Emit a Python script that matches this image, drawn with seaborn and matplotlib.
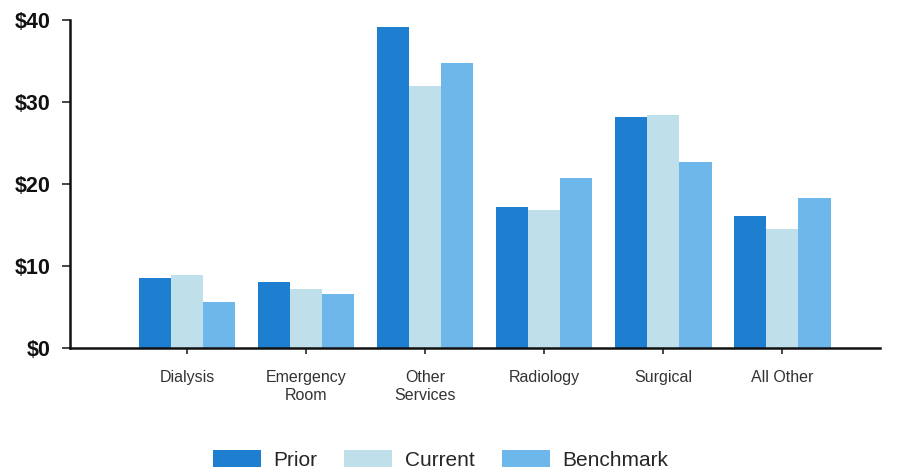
import pandas as pd
import matplotlib
matplotlib.use("Agg")
from matplotlib import pyplot as plt
import seaborn as sns

categories = ["Dialysis", "Emergency\nRoom", "Other\nServices", "Radiology", "Surgical", "All Other"]
series = ["Prior", "Current", "Benchmark"]
prior = [8.5, 8.0, 39.1, 17.1, 28.1, 16.0]
current = [8.9, 7.1, 31.9, 16.8, 28.4, 14.5]
benchmark = [5.5, 6.5, 34.8, 20.7, 22.7, 18.3]
yticks = [0, 10, 20, 30, 40]
ytick_labels = ["$0", "$10", "$20", "$30", "$40"]
colors = ["#1E7ECF", "#BFDFEA", "#6DB7EA"]

df = pd.DataFrame({
    "category": categories * 3,
    "series": [s for s in series for _ in categories],
    "value": prior + current + benchmark,
})

sns.set_style("white")
plt.rcParams["font.family"] = ["Liberation Sans", "DejaVu Sans"]

fig = plt.figure(figsize=(8.99, 4.74), dpi=100)
ax = fig.add_axes([70 / 899, 1 - 347.5 / 474, 810 / 899, 327.5 / 474])

sns.barplot(
    data=df,
    x="category",
    y="value",
    hue="series",
    order=categories,
    hue_order=series,
    palette=colors,
    width=0.81,
    gap=0,
    saturation=1,
    linewidth=0,
    edgecolor="none",
    ax=ax,
)

ax.set_xlim(-0.983, 5.82)
ax.set_ylim(0, 40)
ax.set_yticks(yticks)
ax.set_yticklabels(ytick_labels, fontsize=15.5, fontweight="bold", color="#111111")
ax.set_xticks(range(len(categories)))
ax.set_xticklabels(categories, fontsize=11.5, color="#333333", linespacing=1.3)
ax.tick_params(axis="x", length=4, width=1.2, direction="out", bottom=True, pad=12)
ax.tick_params(axis="y", length=6, width=1.2, direction="out", left=True, pad=8)
ax.set_xlabel("")
ax.set_ylabel("")
for side in ["top", "right"]:
    ax.spines[side].set_visible(False)
for side in ["left", "bottom"]:
    ax.spines[side].set_color("#111111")
    ax.spines[side].set_linewidth(1.8)

ax.legend_.remove()
handles, labels = ax.get_legend_handles_labels()
fig.legend(
    handles, labels,
    loc="center",
    bbox_to_anchor=(0.49, 1 - 460 / 474),
    ncol=3,
    frameon=False,
    fontsize=15,
    handlelength=2.3,
    handleheight=0.9,
    handletextpad=0.6,
    columnspacing=1.3,
)

fig.savefig("out.png", dpi=100)
